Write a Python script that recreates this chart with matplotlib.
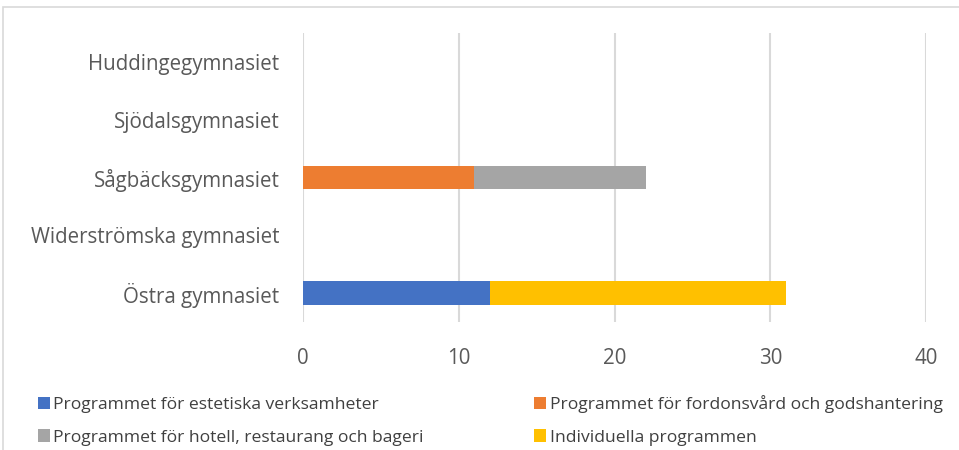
import matplotlib.pyplot as plt
from matplotlib.patches import Rectangle
import numpy as np

skolor = ['Östra gymnasiet', 'Widerströmska gymnasiet', 'Sågbäcksgymnasiet',
          'Sjödalsgymnasiet', 'Huddingegymnasiet']
program = ['Programmet för estetiska verksamheter',
           'Programmet för fordonsvård och godshantering',
           'Programmet för hotell, restaurang och bageri',
           'Individuella programmen']
estetiska = [12, 0, 0, 0, 0]
fordon = [0, 0, 11, 0, 0]
hotell = [0, 0, 11, 0, 0]
individuella = [19, 0, 0, 0, 0]
farger = ['#4472c4', '#ed7d31', '#a5a5a5', '#ffc000']

plt.rcParams['font.family'] = ['Open Sans', 'DejaVu Sans']

fig = plt.figure(figsize=(9.59, 4.5), dpi=100)
ax = fig.add_axes([0.316, 0.2844, 0.6496, 0.6423])

y = np.arange(len(skolor))
left = np.zeros(len(skolor))
for serie, namn, f in zip([estetiska, fordon, hotell, individuella], program, farger):
    ax.barh(y, serie, left=left, height=0.41, color=f, label=namn, zorder=3)
    left = left + np.array(serie)

ax.set_xlim(0, 40)
ax.set_ylim(-0.5, len(skolor) - 0.5)
ax.set_xticks([0, 10, 20, 30, 40])
ax.set_yticks(y)
ax.set_yticklabels(skolor)
ax.tick_params(axis='both', length=0, labelsize=14.8, labelcolor='#595959')
ax.tick_params(axis='x', pad=19)
ax.tick_params(axis='y', pad=17)
ax.grid(axis='x', color='#d9d9d9', linewidth=1.5, zorder=0)
for s in ax.spines.values():
    s.set_visible(False)

# legend filled row by row like Excel
handles, labels = ax.get_legend_handles_labels()
ordning = [0, 2, 1, 3]
fig.legend([handles[i] for i in ordning], [labels[i] for i in ordning],
           loc='upper left', bbox_to_anchor=(0.032, 0.137),
           ncol=2, frameon=False, fontsize=12.6, labelcolor='#404040',
           handlelength=0.7, handleheight=0.7, handletextpad=0.2,
           columnspacing=6.3, labelspacing=0.92, borderaxespad=0)

fig.patches.append(Rectangle((0.0035, -0.1), 1.1, 1.085, transform=fig.transFigure,
                             fill=False, edgecolor='#d9d9d9', linewidth=1.2))

fig.savefig('out.png', dpi=100)
